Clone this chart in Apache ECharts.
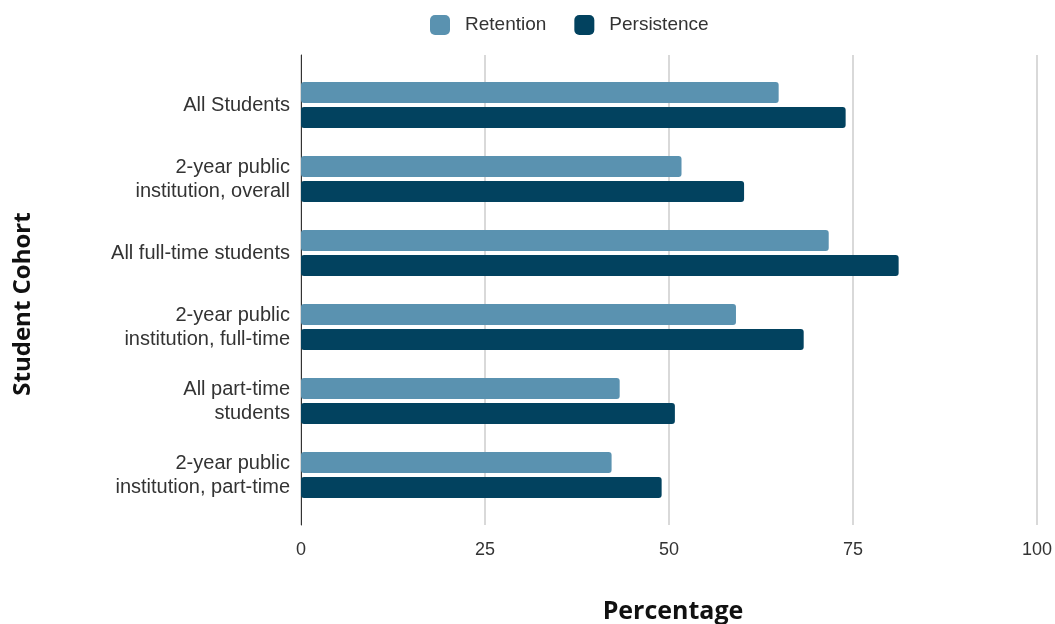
<!DOCTYPE html>
<html>
<head>
<meta charset="utf-8">
<script src="https://cdn.jsdelivr.net/npm/echarts@6/dist/echarts.min.js"></script>
<style>
  html, body { margin: 0; padding: 0; background: #fff; }
  #main { width: 1055px; height: 624px; }
</style>
</head>
<body>
<div id="main"></div>
<script>
let chartDom = document.getElementById('main');
let myChart = echarts.init(chartDom);
let option;

// cohorts, top to bottom
const cohorts = [
    'All Students',
    '2-year public\ninstitution, overall',
    'All full-time students',
    '2-year public\ninstitution, full-time',
    'All part-time\nstudents',
    '2-year public\ninstitution, part-time'
];
const retention = [64.9, 51.7, 71.7, 59.1, 43.3, 42.2];
const persistence = [74.0, 60.2, 81.2, 68.3, 50.8, 49.0];
const xTicks = [0, 25, 50, 75, 100];

const labelFont = 'Liberation Sans, Arial, sans-serif';
const titleFont = 'Open Sans, sans-serif';

option = {
    backgroundColor: '#fff',
    legend: {
        data: ['Retention', 'Persistence'],
        left: 425,
        top: 10,
        itemWidth: 20,
        itemHeight: 20,
        itemGap: 28,
        icon: 'roundRect',
        textStyle: {
            fontFamily: labelFont,
            fontSize: 19,
            color: '#333',
            padding: [0, 0, 0, 10]
        }
    },
    grid: [
        // bars
        { left: 301, right: 18, top: 68, bottom: 112, outerBoundsMode: 'none' },
        // full-height frame for gridlines and axis line
        { left: 301, right: 18, top: 55, bottom: 99, outerBoundsMode: 'none' }
    ],
    xAxis: [
        {
            gridIndex: 0,
            type: 'value',
            min: 0,
            max: 100,
            interval: 25,
            axisLine: { show: false },
            axisTick: { show: false },
            axisLabel: { show: false },
            splitLine: { show: false }
        },
        {
            gridIndex: 1,
            type: 'value',
            min: xTicks[0],
            max: xTicks[xTicks.length - 1],
            interval: 25,
            name: 'Percentage',
            nameLocation: 'middle',
            nameGap: 74,
            nameTextStyle: {
                fontFamily: titleFont,
                fontWeight: 'bold',
                fontSize: 25,
                color: '#111',
                padding: [0, 0, 0, 8]
            },
            axisLine: { show: false },
            axisTick: { show: false },
            axisLabel: {
                margin: 16,
                fontFamily: labelFont,
                fontSize: 18,
                color: '#333'
            },
            splitLine: {
                show: true,
                lineStyle: { color: '#d9d9d9', width: 2 }
            }
        }
    ],
    yAxis: [
        {
            gridIndex: 0,
            type: 'category',
            data: cohorts,
            inverse: true,
            axisLine: { show: false },
            axisTick: { show: false },
            axisLabel: {
                margin: 11,
                fontFamily: labelFont,
                fontSize: 20,
                lineHeight: 24,
                color: '#333',
                align: 'right'
            }
        },
        {
            gridIndex: 1,
            type: 'value',
            min: 0,
            max: 1,
            name: 'Student Cohort',
            nameLocation: 'middle',
            nameGap: 266,
            nameRotate: 90,
            nameTextStyle: {
                fontFamily: titleFont,
                fontWeight: 'bold',
                fontSize: 24,
                color: '#111',
                padding: [0, 28, 0, 0]
            },
            axisLine: { show: true, lineStyle: { color: '#333', width: 1 } },
            axisTick: { show: false },
            axisLabel: { show: false },
            splitLine: { show: false }
        }
    ],
    series: [
        {
            name: 'Retention',
            type: 'bar',
            xAxisIndex: 0,
            yAxisIndex: 0,
            data: retention,
            barWidth: 21,
            barGap: '19%',
            itemStyle: { color: '#5a92b0', borderRadius: 3 }
        },
        {
            name: 'Persistence',
            type: 'bar',
            xAxisIndex: 0,
            yAxisIndex: 0,
            data: persistence,
            barWidth: 21,
            barGap: '19%',
            itemStyle: { color: '#02425f', borderRadius: 3 }
        }
    ]
};

option && myChart.setOption(option);
</script>
</body>
</html>
